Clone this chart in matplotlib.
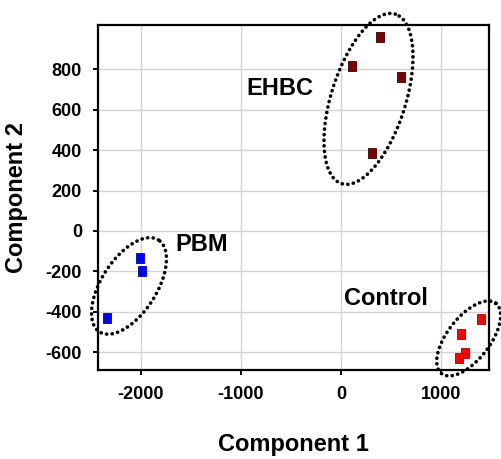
import numpy as np
import matplotlib
matplotlib.use('Agg')
import matplotlib.pyplot as plt

plt.rcParams['font.family'] = ['Liberation Sans', 'DejaVu Sans']
plt.rcParams['font.weight'] = 'bold'
plt.rcParams['axes.unicode_minus'] = False

# PCA scores
ehbc_x = [390, 107, 597, 313]
ehbc_y = [958, 815, 760, 386]
pbm_x = [-2010, -1987, -2340]
pbm_y = [-135, -196, -432]
ctrl_x = [1400, 1200, 1237, 1177]
ctrl_y = [-437, -511, -602, -630]

xticks = [-2000, -1000, 0, 1000]
yticks = [-600, -400, -200, 0, 200, 400, 600, 800]

# group rings: centre (data), semi axes (px), angle (deg, on screen)
rings = [
    (275, 654, 88.9, 37.2, 72.4),
    (-2120, -272, 54.6, 27.5, 57.3),
    (1277, -532, 44.4, 21.3, 52.3),
]
labels = [('EHBC', -610, 706), ('PBM', -1390, -69), ('Control', 450, -332)]

fig = plt.figure(figsize=(5.01, 4.59), dpi=100)
ax = fig.add_axes([0.1956, 0.194, 0.7804, 0.7516])

rect = [(-0.38, -0.5), (0.38, -0.5), (0.38, 0.5), (-0.38, 0.5), (-0.38, -0.5)]
ax.plot(ehbc_x, ehbc_y, linestyle='none', marker=rect, markersize=7,
        markerfacecolor='#7a0000', markeredgecolor='#3a0000', markeredgewidth=0.6, zorder=3)
ax.plot(pbm_x, pbm_y, linestyle='none', marker=rect, markersize=7,
        markerfacecolor='#0000ff', markeredgecolor='#0000b0', markeredgewidth=0.6, zorder=3)
ax.plot(ctrl_x, ctrl_y, linestyle='none', marker=rect, markersize=7,
        markerfacecolor='#ff0000', markeredgecolor='#a00000', markeredgewidth=0.6, zorder=3)

ax.set_xlim(-2430, 1480)
ax.set_ylim(-688, 1020)
ax.set_xticks(xticks)
ax.set_yticks(yticks)
ax.grid(True, color='#d4d4d4', linewidth=1.0)
ax.set_axisbelow(True)
for s in ax.spines.values():
    s.set_linewidth(1.6)
    s.set_color('black')
ax.tick_params(direction='out', length=3.5, width=1.4, labelsize=13, pad=8)

ax.set_xlabel('Component 1', fontsize=17, fontweight='bold')
ax.set_ylabel('Component 2', fontsize=17, fontweight='bold')
ax.xaxis.set_label_coords(0.5, -0.183)
ax.yaxis.set_label_coords(-0.18, 0.5)

# draw the dotted rings in pixel units so they keep their shape
sx = ax.bbox.width / (1480 + 2430)
sy = ax.bbox.height / (1020 + 688)
t = np.linspace(0, 2 * np.pi, 300)
for cx, cy, a, b, ang in rings:
    p = np.deg2rad(ang)
    ex = cx + (a * np.cos(p) * np.cos(t) - b * np.sin(p) * np.sin(t)) / sx
    ey = cy + (a * np.sin(p) * np.cos(t) + b * np.cos(p) * np.sin(t)) / sy
    ax.plot(ex, ey, color='black', linewidth=2.6, linestyle=(0, (0.05, 1.5)),
            dash_capstyle='round', clip_on=False, zorder=4)

for txt, lx, ly in labels:
    ax.text(lx, ly, txt, fontsize=17, fontweight='bold', ha='center', va='center')

fig.savefig('out.png', dpi=100)
